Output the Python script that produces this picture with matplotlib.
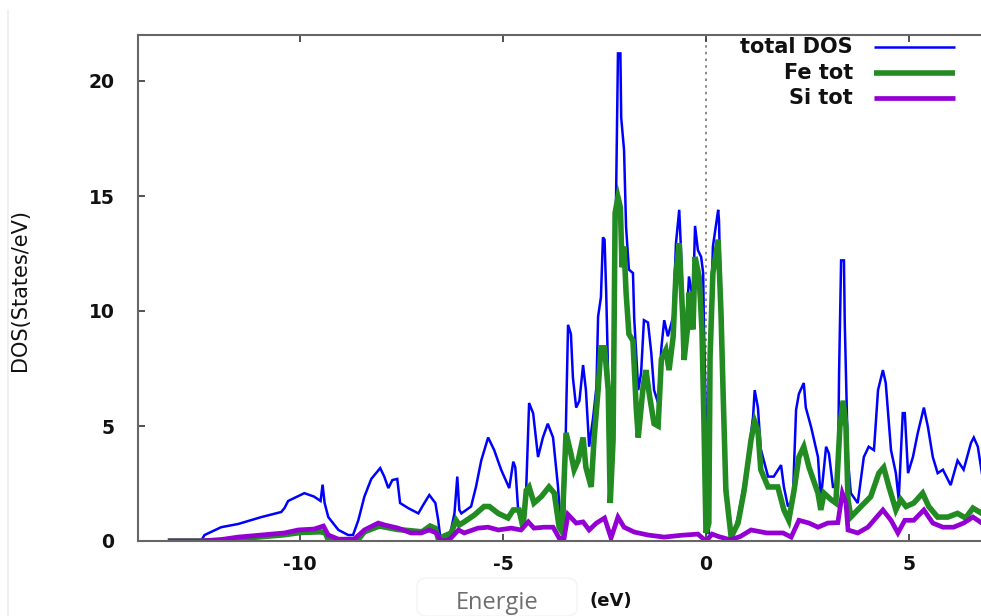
import numpy as np
import matplotlib
matplotlib.use("Agg")
import matplotlib.pyplot as plt
from matplotlib.patches import FancyBboxPatch
from matplotlib.lines import Line2D

plt.rcParams['axes.unicode_minus'] = False

# energies (eV) and DOS (states/eV)
total_E = [-13.2, -12.45, -12.36, -11.95, -11.53, -10.96, -10.47, -10.39, -10.3, -9.9,
           -9.66, -9.5, -9.45, -9.4, -9.31, -9.06, -8.82, -8.7, -8.57, -8.42,
           -8.25, -8.03, -7.93, -7.83, -7.73, -7.61, -7.54, -7.34, -7.09, -6.97,
           -6.82, -6.67, -6.6, -6.55, -6.33, -6.2, -6.13, -6.08, -6.03, -5.79,
           -5.67, -5.54, -5.37, -5.22, -5.05, -4.85, -4.75, -4.7, -4.63, -4.51,
           -4.43, -4.36, -4.26, -4.14, -4.02, -3.9, -3.77, -3.65, -3.57, -3.5,
           -3.45, -3.4, -3.33, -3.28, -3.2, -3.12, -3.03, -2.96, -2.88, -2.78,
           -2.7, -2.66, -2.59, -2.54, -2.5, -2.46, -2.41, -2.34, -2.27, -2.22,
           -2.17, -2.11, -2.09, -2.02, -1.97, -1.9, -1.8, -1.77, -1.67, -1.6,
           -1.53, -1.43, -1.35, -1.28, -1.18, -1.1, -1.03, -0.94, -0.81, -0.74,
           -0.66, -0.62, -0.54, -0.44, -0.42, -0.32, -0.27, -0.2, -0.12, -0.07,
           -0.05, 0.0, 0.02, 0.07, 0.1, 0.17, 0.25, 0.3, 0.32, 0.37,
           0.42, 0.49, 0.57, 0.66, 0.79, 0.94, 1.06, 1.16, 1.2, 1.28,
           1.35, 1.53, 1.67, 1.85, 1.92, 2.02, 2.14, 2.22, 2.29, 2.41,
           2.46, 2.59, 2.76, 2.83, 2.96, 3.03, 3.13, 3.25, 3.28, 3.33,
           3.4, 3.42, 3.5, 3.57, 3.74, 3.89, 4.01, 4.14, 4.24, 4.36,
           4.43, 4.56, 4.68, 4.75, 4.85, 4.9, 4.98, 5.1, 5.22, 5.37,
           5.47, 5.59, 5.71, 5.84, 6.03, 6.2, 6.35, 6.53, 6.6, 6.7, 6.8]
total_dos = [0, 0, 0.26, 0.6, 0.74, 1.04, 1.26, 1.43, 1.74, 2.08,
             1.93, 1.74, 2.45, 1.65, 1.04, 0.48, 0.26, 0.26, 0.9, 1.93,
             2.7, 3.17, 2.8, 2.3, 2.65, 2.7, 1.65, 1.43, 1.2, 1.57,
             2.0, 1.65, 0.9, 0.17, 0.1, 1.2, 2.8, 1.35, 1.2, 1.5,
             2.35, 3.5, 4.5, 3.95, 3.1, 2.3, 3.45, 3.2, 1.35, 0.48,
             2.35, 6.0, 5.55, 3.65, 4.5, 5.1, 4.5, 2.4, 0.5, 0.35,
             5.26, 9.4, 9.0, 7.1, 5.8, 6.1, 7.65, 6.56, 4.1, 5.4,
             6.7, 9.75, 10.6, 13.2, 13.1, 10.8, 7.0, 1.8, 5.56, 14.5,
             21.2, 21.2, 18.4, 17.0, 13.65, 11.8, 11.65, 9.7, 6.56, 7.3,
             9.6, 9.5, 8.2, 6.56, 6.0, 8.4, 9.6, 8.9, 9.75, 12.95,
             14.4, 12.8, 8.4, 10.8, 11.5, 10.5, 13.7, 12.65, 12.35, 11.65,
             9.2, 5.1, 0.35, 0.35, 8.4, 12.8, 13.8, 14.4, 13.95, 10.2,
             6.56, 2.95, 0.78, 0.17, 1.04, 2.5, 3.95, 5.4, 6.56, 5.8,
             4.0, 2.8, 2.8, 3.3, 2.35, 1.5, 1.8, 5.7, 6.4, 6.87,
             5.8, 4.96, 3.65, 1.8, 4.1, 3.8, 2.35, 2.35, 7.3, 12.2,
             12.2, 9.5, 3.5, 2.08, 1.65, 3.65, 4.1, 3.95, 6.56, 7.43,
             6.87, 3.95, 2.95, 1.8, 5.56, 5.56, 2.95, 3.65, 4.7, 5.8,
             4.96, 3.65, 2.95, 3.1, 2.43, 3.5, 3.1, 4.26, 4.5, 4.1, 2.95]

fe_E = [-13.2, -12.4, -12.0, -11.0, -10.4, -10.0, -9.5, -9.38, -9.3, -8.6,
        -8.42, -8.05, -7.6, -7.0, -6.8, -6.67, -6.6, -6.28, -6.16, -6.08,
        -5.96, -5.71, -5.47, -5.34, -5.12, -4.88, -4.75, -4.61, -4.51, -4.43,
        -4.36, -4.24, -4.06, -3.87, -3.74, -3.62, -3.55, -3.45, -3.33, -3.25,
        -3.15, -3.03, -2.96, -2.83, -2.76, -2.66, -2.59, -2.5, -2.41, -2.36,
        -2.29, -2.24, -2.17, -2.11, -2.07, -2.02, -1.97, -1.9, -1.8, -1.72,
        -1.67, -1.55, -1.48, -1.4, -1.28, -1.18, -1.1, -0.99, -0.91, -0.81,
        -0.74, -0.66, -0.57, -0.54, -0.44, -0.42, -0.32, -0.27, -0.17, -0.1,
        -0.05, 0.0, 0.07, 0.1, 0.17, 0.3, 0.37, 0.42, 0.49, 0.62,
        0.79, 0.94, 1.11, 1.2, 1.28, 1.35, 1.53, 1.77, 1.92, 2.04,
        2.17, 2.29, 2.41, 2.54, 2.76, 2.83, 2.91, 3.08, 3.2, 3.3,
        3.38, 3.45, 3.5, 3.57, 3.82, 4.06, 4.26, 4.38, 4.51, 4.68,
        4.8, 4.93, 5.12, 5.34, 5.49, 5.71, 5.96, 6.2, 6.4, 6.58, 6.8]
fe_dos = [0, 0, 0.03, 0.18, 0.27, 0.37, 0.4, 0.35, 0.0, 0.0,
          0.4, 0.65, 0.5, 0.4, 0.65, 0.55, 0.1, 0.35, 0.9, 0.7,
          0.83, 1.13, 1.5, 1.5, 1.2, 1.0, 1.35, 1.35, 0.6, 2.2,
          2.35, 1.65, 1.93, 2.35, 2.08, 0.6, 0.4, 4.7, 3.8, 3.1,
          3.5, 4.5, 3.2, 2.35, 4.4, 6.56, 8.4, 8.4, 6.56, 1.65,
          4.4, 14.26, 14.95, 14.5, 11.9, 12.8, 10.8, 9.0, 8.7, 5.8,
          4.5, 6.7, 7.43, 6.4, 5.1, 5.0, 7.9, 8.3, 7.43, 8.87,
          11.65, 12.95, 9.6, 7.87, 9.5, 10.8, 9.2, 12.35, 11.5, 9.2,
          5.1, 0.35, 0.78, 8.0, 11.65, 13.1, 9.9, 6.56, 2.2, 0.17,
          0.78, 2.2, 4.4, 5.2, 4.8, 3.1, 2.35, 2.35, 1.35, 0.9,
          2.2, 3.65, 4.1, 3.2, 2.08, 1.35, 2.08, 1.8, 1.65, 4.96,
          6.1, 4.96, 1.8, 1.04, 1.5, 1.93, 2.95, 3.2, 2.35, 1.35,
          1.8, 1.5, 1.65, 2.08, 1.5, 1.04, 1.04, 1.2, 1.0, 1.43, 1.2]

si_E = [-13.2, -12.45, -12.0, -11.53, -10.96, -10.39, -10.05, -9.66, -9.43, -9.31,
        -9.06, -8.67, -8.42, -8.08, -7.93, -7.59, -7.27, -7.02, -6.82, -6.65,
        -6.53, -6.33, -6.1, -5.96, -5.62, -5.37, -5.12, -4.8, -4.56, -4.38,
        -4.24, -3.99, -3.77, -3.62, -3.5, -3.4, -3.2, -3.03, -2.88, -2.7,
        -2.5, -2.34, -2.17, -2.02, -1.77, -1.43, -1.03, -0.6, -0.2, 0.0,
        0.15, 0.3, 0.6, 0.85, 1.11, 1.5, 1.9, 2.1, 2.29, 2.54,
        2.76, 3.0, 3.25, 3.36, 3.45, 3.5, 3.74, 3.99, 4.36, 4.56,
        4.73, 4.9, 5.12, 5.37, 5.59, 5.84, 6.1, 6.35, 6.58, 6.8]
si_dos = [0, 0, 0.05, 0.17, 0.26, 0.35, 0.48, 0.52, 0.65, 0.26,
          0.08, 0.08, 0.48, 0.78, 0.7, 0.56, 0.35, 0.35, 0.48, 0.35,
          0.0, 0.05, 0.48, 0.35, 0.56, 0.6, 0.48, 0.56, 0.48, 0.83,
          0.56, 0.6, 0.6, 0.13, 0.1, 1.15, 0.78, 0.83, 0.48, 0.78,
          1.0, 0.13, 1.04, 0.6, 0.39, 0.26, 0.17, 0.25, 0.3, 0.0,
          0.3, 0.2, 0.05, 0.2, 0.48, 0.35, 0.35, 0.17, 0.9, 0.78,
          0.6, 0.78, 0.8, 2.08, 1.65, 0.48, 0.35, 0.6, 1.35, 0.9,
          0.35, 0.9, 0.9, 1.35, 0.78, 0.6, 0.6, 0.78, 1.04, 0.78]

labels = ['total DOS', 'Fe tot', 'Si tot']
colors = ['#0000ff', '#228b22', '#9400d3']
widths = [1.8, 4.0, 3.4]

fig = plt.figure(figsize=(9.81, 6.16), dpi=100)
# axes runs a little past the right edge, the source picture is cropped there
ax = fig.add_axes([138 / 981, 1 - 541 / 616, 852 / 981, 506 / 616])

series = [(total_E, total_dos), (fe_E, fe_dos), (si_E, si_dos)]
for (e, d), c, w in zip(series, colors, widths):
    ax.plot(e, d, color=c, lw=w, solid_joinstyle='miter')

ax.axvline(0, color='#777777', lw=1.2, ls=(0, (1.5, 2.5)), zorder=0)

ax.set_xlim(-14, 7.0)
ax.set_ylim(0, 22)
ax.set_xticks([-10, -5, 0, 5])
ax.set_yticks([0, 5, 10, 15, 20])
ax.tick_params(direction='in', length=5, width=1.2, color='#333333',
               top=True, right=True, labelsize=13.5)
ax.tick_params(axis='y', pad=17)
ax.tick_params(axis='x', pad=10)
for lab in ax.get_xticklabels() + ax.get_yticklabels():
    lab.set_fontweight('bold')
    lab.set_color('#111111')
for sp in ax.spines.values():
    sp.set_color('#666666')
    sp.set_linewidth(1.5)

ax.set_ylabel('DOS(States/eV)', fontsize=15, color='#111111', family='DejaVu Sans')
ax.yaxis.set_label_coords(-(138 - 30) / 852, (541 - 290) / 506)

# key, gnuplot style: right aligned text with sample to the right
ys = [0.976, 0.925, 0.875]
for lab, c, w, y in zip(labels, colors, widths, ys):
    ax.text(0.839, y, lab, transform=ax.transAxes, ha='right', va='center',
            fontsize=15, fontweight='bold', color='#111111')
    ax.add_line(Line2D([0.864, 0.959], [y, y], transform=ax.transAxes,
                       color=c, lw=w, solid_capstyle='butt'))

# x axis title
box = FancyBboxPatch((417 / 981, 1 - 616 / 616), 160 / 981, 38 / 616,
                     boxstyle='round,pad=0,rounding_size=0.012',
                     transform=fig.transFigure, fc='none', ec='#f4f4f4', lw=1.0)
fig.patches.append(box)
fig.text(497 / 981, 1 - 603 / 616, 'Energie', ha='center', va='center',
         fontsize=17, color='#6e6e6e', family='Open Sans')
fig.text(611 / 981, 1 - 601 / 616, '(eV)', ha='center', va='center',
         fontsize=13, fontweight='bold', color='#111111')

# faint border of the source screenshot
fig.add_artist(Line2D([8 / 981, 8 / 981], [0, 1 - 10 / 616], transform=fig.transFigure,
                      color='#eeeeee', lw=1.2))

fig.savefig('out.png', dpi=100)
